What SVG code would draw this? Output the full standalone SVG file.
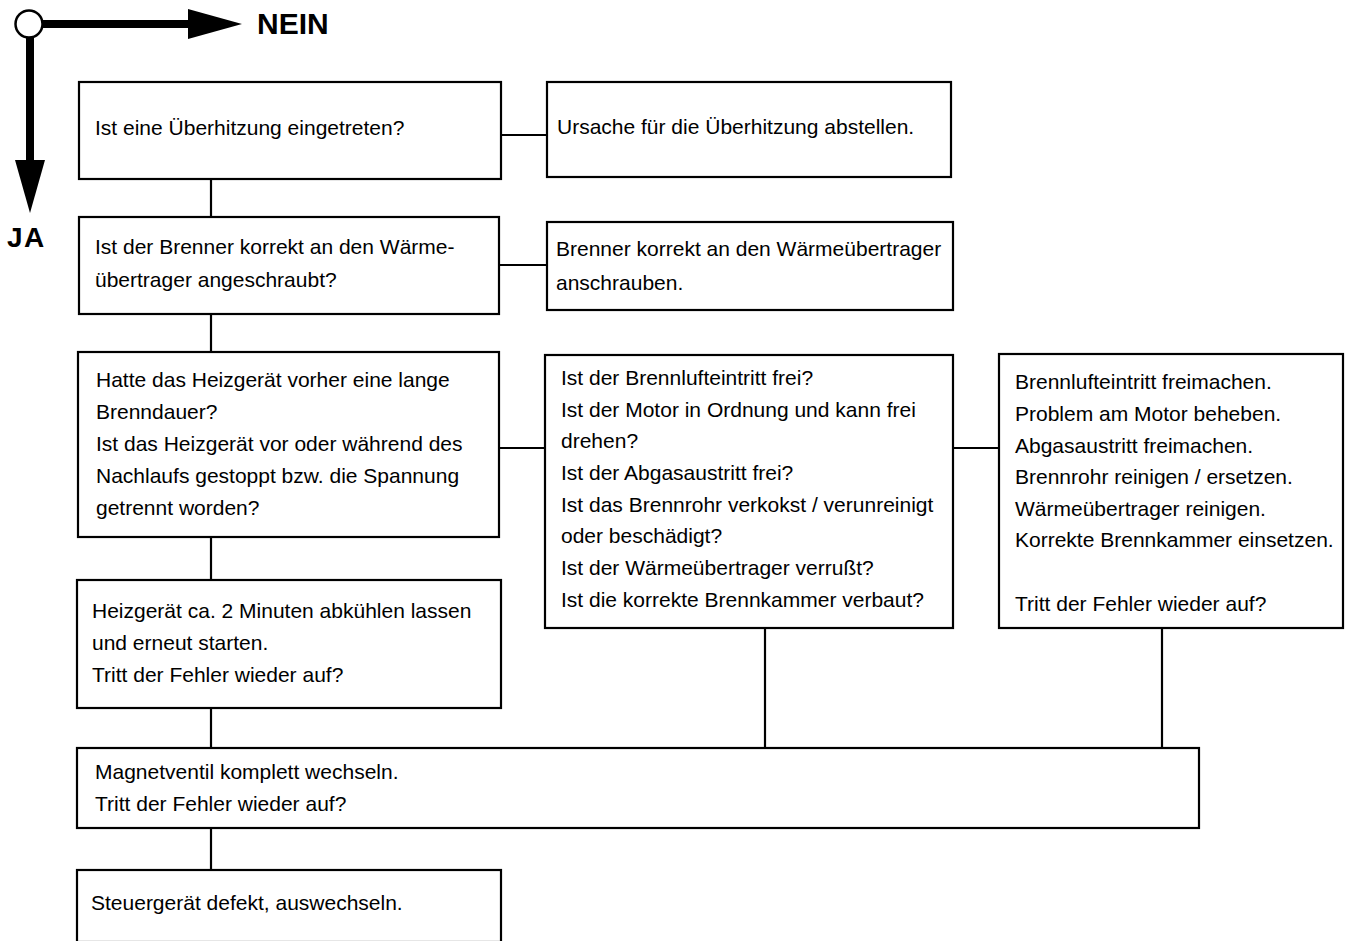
<svg xmlns="http://www.w3.org/2000/svg" width="1350" height="941" viewBox="0 0 1350 941">
<style>
.box{fill:#fff;stroke:#000;stroke-width:2.2}
.t{font-family:"Liberation Sans",Arial,sans-serif;font-size:21px;fill:#000}
.big{font-family:"Liberation Sans",Arial,sans-serif;font-size:30px;font-weight:bold;fill:#000}
.c{stroke:#000;stroke-width:2.2;fill:none}
</style>
<rect width="1350" height="941" fill="#fff"/>
<g id="legend">
<line x1="30" y1="24" x2="192" y2="24" stroke="#000" stroke-width="8"/>
<polygon points="188,9 242,24 188,39" fill="#000"/>
<line x1="30" y1="24" x2="30" y2="164" stroke="#000" stroke-width="8"/>
<polygon points="15,160 45,160 30,213" fill="#000"/>
<circle cx="29" cy="24" r="13.5" fill="#fff" stroke="#000" stroke-width="2.5"/>
<text class="big" x="257" y="34">NEIN</text>
<text class="big" x="7" y="247" style="font-size:28px;letter-spacing:1.5px">JA</text>
</g>
<g id="connectors">
<line class="c" x1="211" y1="179" x2="211" y2="217"/>
<line class="c" x1="211" y1="314" x2="211" y2="352"/>
<line class="c" x1="211" y1="537" x2="211" y2="580"/>
<line class="c" x1="211" y1="708" x2="211" y2="748"/>
<line class="c" x1="211" y1="828" x2="211" y2="870"/>
<line class="c" x1="501" y1="135" x2="547" y2="135"/>
<line class="c" x1="499" y1="265" x2="547" y2="265"/>
<line class="c" x1="499" y1="448" x2="545" y2="448"/>
<line class="c" x1="953" y1="448" x2="999" y2="448"/>
<line class="c" x1="765" y1="628" x2="765" y2="748"/>
<line class="c" x1="1162" y1="628" x2="1162" y2="748"/>
</g>
<g id="n1">
<rect class="box" x="79" y="82" width="422" height="97"/>
<text class="t" x="95" y="135">Ist eine Überhitzung eingetreten?</text>
</g>
<g id="n1r">
<rect class="box" x="547" y="82" width="404" height="95"/>
<text class="t" x="557" y="134">Ursache für die Überhitzung abstellen.</text>
</g>
<g id="n2">
<rect class="box" x="79" y="217" width="420" height="97"/>
<text class="t" x="95" y="254">Ist der Brenner korrekt an den Wärme-</text>
<text class="t" x="95" y="287">übertrager angeschraubt?</text>
</g>
<g id="n2r">
<rect class="box" x="547" y="222" width="406" height="88"/>
<text class="t" x="556" y="256">Brenner korrekt an den Wärmeübertrager</text>
<text class="t" x="556" y="290">anschrauben.</text>
</g>
<g id="n3">
<rect class="box" x="78" y="352" width="421" height="185"/>
<text class="t" x="96" y="387">Hatte das Heizgerät vorher eine lange</text>
<text class="t" x="96" y="419">Brenndauer?</text>
<text class="t" x="96" y="451">Ist das Heizgerät vor oder während des</text>
<text class="t" x="96" y="483">Nachlaufs gestoppt bzw. die Spannung</text>
<text class="t" x="96" y="515">getrennt worden?</text>
</g>
<g id="n3m">
<rect class="box" x="545" y="355" width="408" height="273"/>
<text class="t" x="561" y="385">Ist der Brennlufteintritt frei?</text>
<text class="t" x="561" y="417">Ist der Motor in Ordnung und kann frei</text>
<text class="t" x="561" y="448">drehen?</text>
<text class="t" x="561" y="480">Ist der Abgasaustritt frei?</text>
<text class="t" x="561" y="512">Ist das Brennrohr verkokst / verunreinigt</text>
<text class="t" x="561" y="543">oder beschädigt?</text>
<text class="t" x="561" y="575">Ist der Wärmeübertrager verrußt?</text>
<text class="t" x="561" y="607">Ist die korrekte Brennkammer verbaut?</text>
</g>
<g id="n3r">
<rect class="box" x="999" y="354" width="344" height="274"/>
<text class="t" x="1015" y="389">Brennlufteintritt freimachen.</text>
<text class="t" x="1015" y="421">Problem am Motor beheben.</text>
<text class="t" x="1015" y="453">Abgasaustritt freimachen.</text>
<text class="t" x="1015" y="484">Brennrohr reinigen / ersetzen.</text>
<text class="t" x="1015" y="516">Wärmeübertrager reinigen.</text>
<text class="t" x="1015" y="547">Korrekte Brennkammer einsetzen.</text>
<text class="t" x="1015" y="611">Tritt der Fehler wieder auf?</text>
</g>
<g id="n4">
<rect class="box" x="77" y="580" width="424" height="128"/>
<text class="t" x="92" y="618">Heizgerät ca. 2 Minuten abkühlen lassen</text>
<text class="t" x="92" y="650">und erneut starten.</text>
<text class="t" x="92" y="682">Tritt der Fehler wieder auf?</text>
</g>
<g id="n5">
<rect class="box" x="77" y="748" width="1122" height="80"/>
<text class="t" x="95" y="779">Magnetventil komplett wechseln.</text>
<text class="t" x="95" y="811">Tritt der Fehler wieder auf?</text>
</g>
<g id="n6">
<rect class="box" x="77" y="870" width="424" height="72"/>
<text class="t" x="91" y="910">Steuergerät defekt, auswechseln.</text>
</g>
</svg>
